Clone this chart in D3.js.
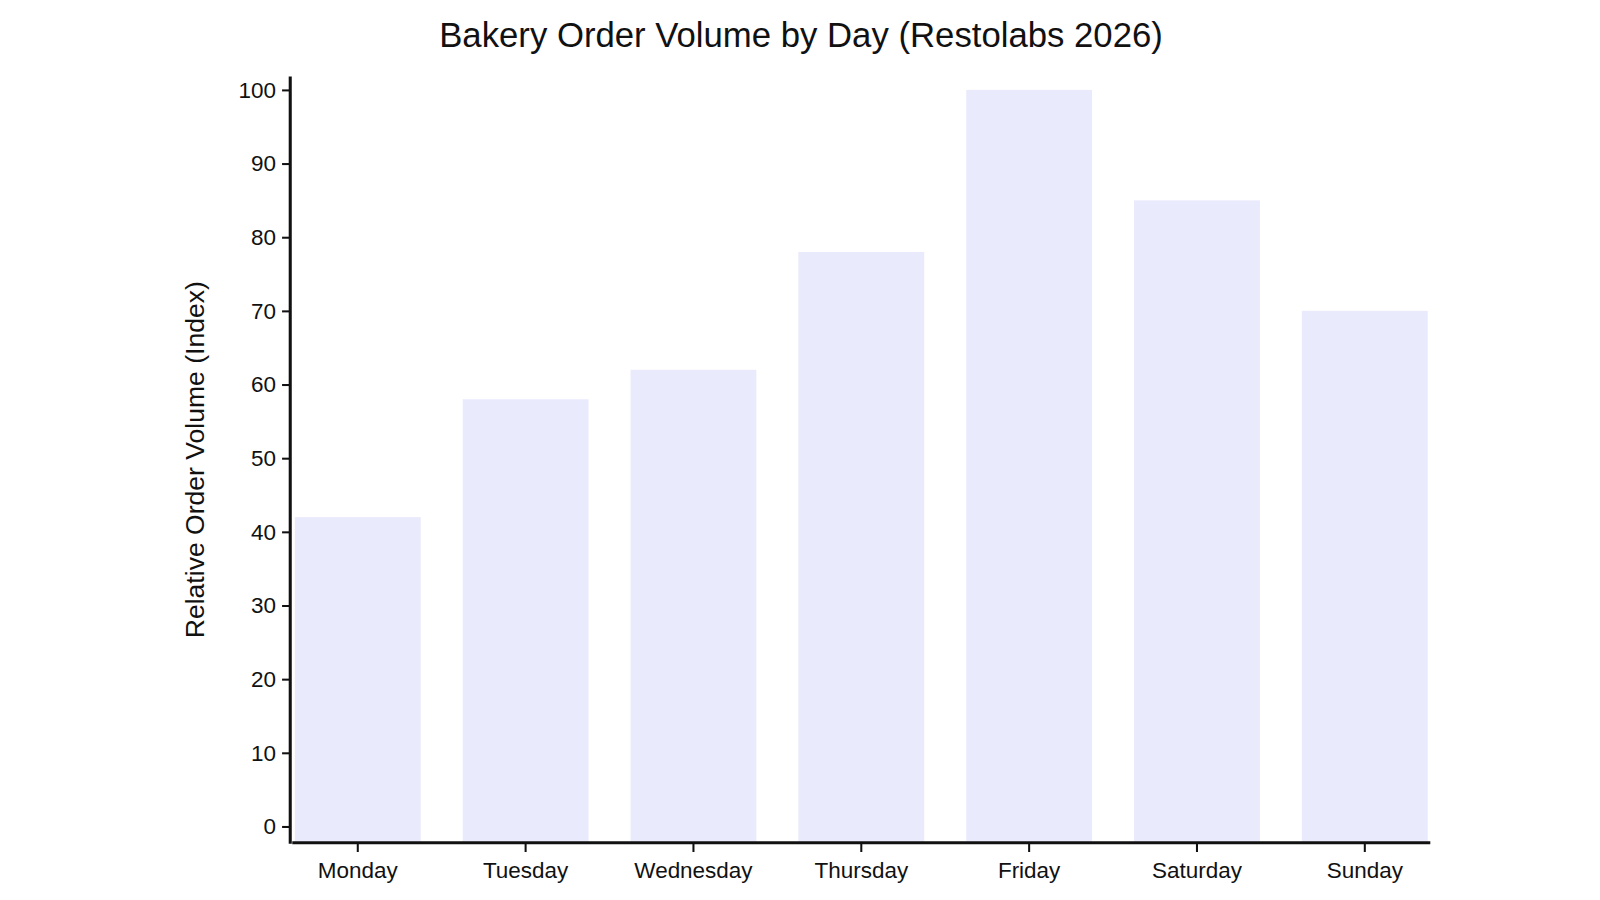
<!DOCTYPE html>
<html><head><meta charset="utf-8">
<script src="https://cdn.jsdelivr.net/npm/d3@7"></script>
<style>body{margin:0;background:#fff}svg{display:block}text{font-family:"Liberation Sans",Arial,sans-serif;fill:#111}</style>
</head><body><svg id="c" width="1600" height="900" viewBox="0 0 1566 881"></svg>
<script>
const categories=["Monday","Tuesday","Wednesday","Thursday","Friday","Saturday","Sunday"];
const values=[42,58,62,78,100,85,70];
const yTicks=[0,10,20,30,40,50,60,70,80,90,100];
const title="Bakery Order Volume by Day (Restolabs 2026)";
const yLabel="Relative Order Volume (Index)";

const svg=d3.select("#c");
const x=d3.scaleBand().domain(categories).range([288.5,1397.5]).paddingInner(0.25).paddingOuter(0);
const y=d3.scaleLinear().domain([0,100]).range([809,88]);
const baseY=825, axX=284;

svg.selectAll("rect.bar").data(values).join("rect").attr("class","bar")
 .attr("x",(d,i)=>x(categories[i])).attr("width",x.bandwidth())
 .attr("y",d=>y(d)).attr("height",d=>baseY-y(d)).attr("fill","#eaeafd");

const ya=svg.append("g").attr("transform",`translate(${axX},0)`)
 .call(d3.axisLeft(y).tickValues(yTicks).tickSize(8).tickPadding(6));
ya.select(".domain").remove();
ya.selectAll("line").attr("stroke","#111").attr("stroke-width",2);
ya.selectAll("text").style("font-size","22px");
svg.append("line").attr("x1",axX).attr("x2",axX).attr("y1",75).attr("y2",826).attr("stroke","#111").attr("stroke-width",3);

const xa=svg.append("g").attr("transform",`translate(0,${baseY})`)
 .call(d3.axisBottom(x).tickSize(9).tickPadding(10));
xa.select(".domain").remove();
xa.selectAll("line").attr("stroke","#111").attr("stroke-width",2);
xa.selectAll("text").style("font-size","22px");
svg.append("line").attr("x1",286).attr("x2",1400).attr("y1",baseY).attr("y2",baseY).attr("stroke","#111").attr("stroke-width",3);

svg.append("text").attr("x",784).attr("y",46).attr("text-anchor","middle").style("font-size","34px").text(title);
svg.append("text").attr("transform","translate(200,450) rotate(-90)").attr("text-anchor","middle").style("font-size","26px").text(yLabel);
</script></body></html>
